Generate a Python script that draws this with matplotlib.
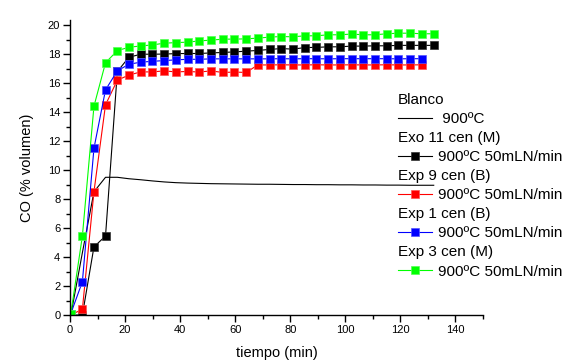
import matplotlib
matplotlib.use("Agg")
import matplotlib.pyplot as plt
from matplotlib.lines import Line2D
from matplotlib.ticker import MultipleLocator

plt.rcParams['font.family'] = ['Liberation Sans', 'DejaVu Sans']

# sampling times (min), shared by all runs
tiempo = [0.3, 4.5, 8.7, 12.9, 17.2, 21.4, 25.7, 29.9, 34.2, 38.4, 42.7,
          47.0, 51.2, 55.5, 59.7, 64.0, 68.2, 72.5, 76.7, 81.0, 85.3, 89.5,
          93.8, 98.0, 102.3, 106.5, 110.8, 115.0, 119.3, 123.5, 127.8, 132.1]

blanco = [0, 4.3, 8.5, 9.5, 9.5, 9.4, 9.33, 9.25, 9.18, 9.13, 9.1, 9.08,
          9.06, 9.05, 9.04, 9.03, 9.02, 9.02, 9.01, 9.0, 9.0, 8.99, 8.99,
          8.98, 8.98, 8.97, 8.97, 8.96, 8.96, 8.95, 8.95, 8.95]
exo11 = [0, 0, 4.7, 5.45, 16.8, 17.78, 17.99, 17.99, 18.0, 18.03, 18.04,
         18.04, 18.08, 18.11, 18.15, 18.2, 18.25, 18.32, 18.38, 18.34, 18.45,
         18.46, 18.5, 18.5, 18.55, 18.55, 18.57, 18.57, 18.6, 18.6, 18.6, 18.6]
exp9 = [0, 0.4, 8.5, 14.5, 16.2, 16.55, 16.77, 16.77, 16.84, 16.77, 16.8,
        16.76, 16.84, 16.73, 16.76, 16.73, 17.25, 17.25, 17.26, 17.25, 17.25,
        17.26, 17.25, 17.25, 17.26, 17.25, 17.25, 17.26, 17.25, 17.25, 17.26]
exp1 = [0.1, 2.3, 11.5, 15.53, 16.84, 17.3, 17.44, 17.5, 17.55, 17.6, 17.64,
        17.64, 17.67, 17.67, 17.67, 17.67, 17.67, 17.67, 17.68, 17.67, 17.68,
        17.68, 17.67, 17.68, 17.68, 17.68, 17.68, 17.68, 17.67, 17.68, 17.68]
exp3 = [0.1, 5.45, 14.4, 17.4, 18.24, 18.47, 18.56, 18.63, 18.75, 18.79,
        18.82, 18.91, 18.96, 19.03, 19.03, 19.05, 19.1, 19.17, 19.21, 19.19,
        19.26, 19.26, 19.33, 19.33, 19.38, 19.33, 19.33, 19.4, 19.44, 19.44,
        19.4, 19.4]

titulos = ["Blanco", "Exo 11 cen (M)", "Exp 9 cen (B)", "Exp 1 cen (B)",
           "Exp 3 cen (M)"]
condiciones = [" 900ºC", "900ºC 50mLN/min", "900ºC 50mLN/min",
               "900ºC 50mLN/min", "900ºC 50mLN/min"]

fig = plt.figure(figsize=(5.7, 3.63), dpi=100)
ax = fig.add_axes([0.1228, 0.1322, 0.7246, 0.8127])

lw = 0.8
ms = 5.8
h0, = ax.plot(tiempo, blanco, color='black', lw=lw)
h1, = ax.plot(tiempo[:len(exo11)], exo11, color='black', lw=lw, marker='s',
              ms=ms, mec='#333333', mew=0.5)
h2, = ax.plot(tiempo[:len(exp9)], exp9, color='red', lw=lw, marker='s',
              ms=ms, mec='#ff5555', mew=0.5)
h3, = ax.plot(tiempo[:len(exp1)], exp1, color='blue', lw=lw, marker='s',
              ms=ms, mec='#5555ff', mew=0.5)
h4, = ax.plot(tiempo[:len(exp3)], exp3, color='#00ff00', lw=lw, marker='s',
              ms=ms, mec='#55ff55', mew=0.5)

ax.set_xlim(0, 150)
ax.set_ylim(0, 20.35)
ax.xaxis.set_major_locator(MultipleLocator(20))
ax.xaxis.set_minor_locator(MultipleLocator(10))
ax.yaxis.set_major_locator(MultipleLocator(2))
ax.yaxis.set_minor_locator(MultipleLocator(1))
ax.spines['top'].set_visible(False)
ax.spines['right'].set_visible(False)
for s in ['left', 'bottom']:
    ax.spines[s].set_linewidth(1.0)
ax.tick_params(which='major', direction='out', length=5, width=1,
               labelsize=8, pad=2)
ax.tick_params(which='minor', direction='out', length=3, width=1)
ax.set_xlabel("tiempo (min)", fontsize=10.5, labelpad=8)
ax.set_ylabel("CO (% volumen)", fontsize=10.5, labelpad=10)

# legend: title rows and handle rows interleaved through two legends
vacio = Line2D([], [], linestyle='none')
series = [h0, h1, h2, h3, h4]
hA, lA, hB, lB = [], [], [], []
for tit, cond, h in zip(titulos, condiciones, series):
    hA += [vacio, vacio]
    lA += [tit, ""]
    hB += [vacio, h]
    lB += ["", cond]

kw = dict(loc='upper left', bbox_to_anchor=(0.794, 0.752), frameon=False,
          fontsize=11, labelspacing=0.33, borderpad=0, borderaxespad=0)
legA = ax.legend(hA, lA, handlelength=0, handletextpad=0, **kw)
ax.add_artist(legA)
ax.legend(hB, lB, handlelength=2.25, handletextpad=0.35, markerscale=1.0,
          **kw)

fig.savefig("out.png", dpi=100)
